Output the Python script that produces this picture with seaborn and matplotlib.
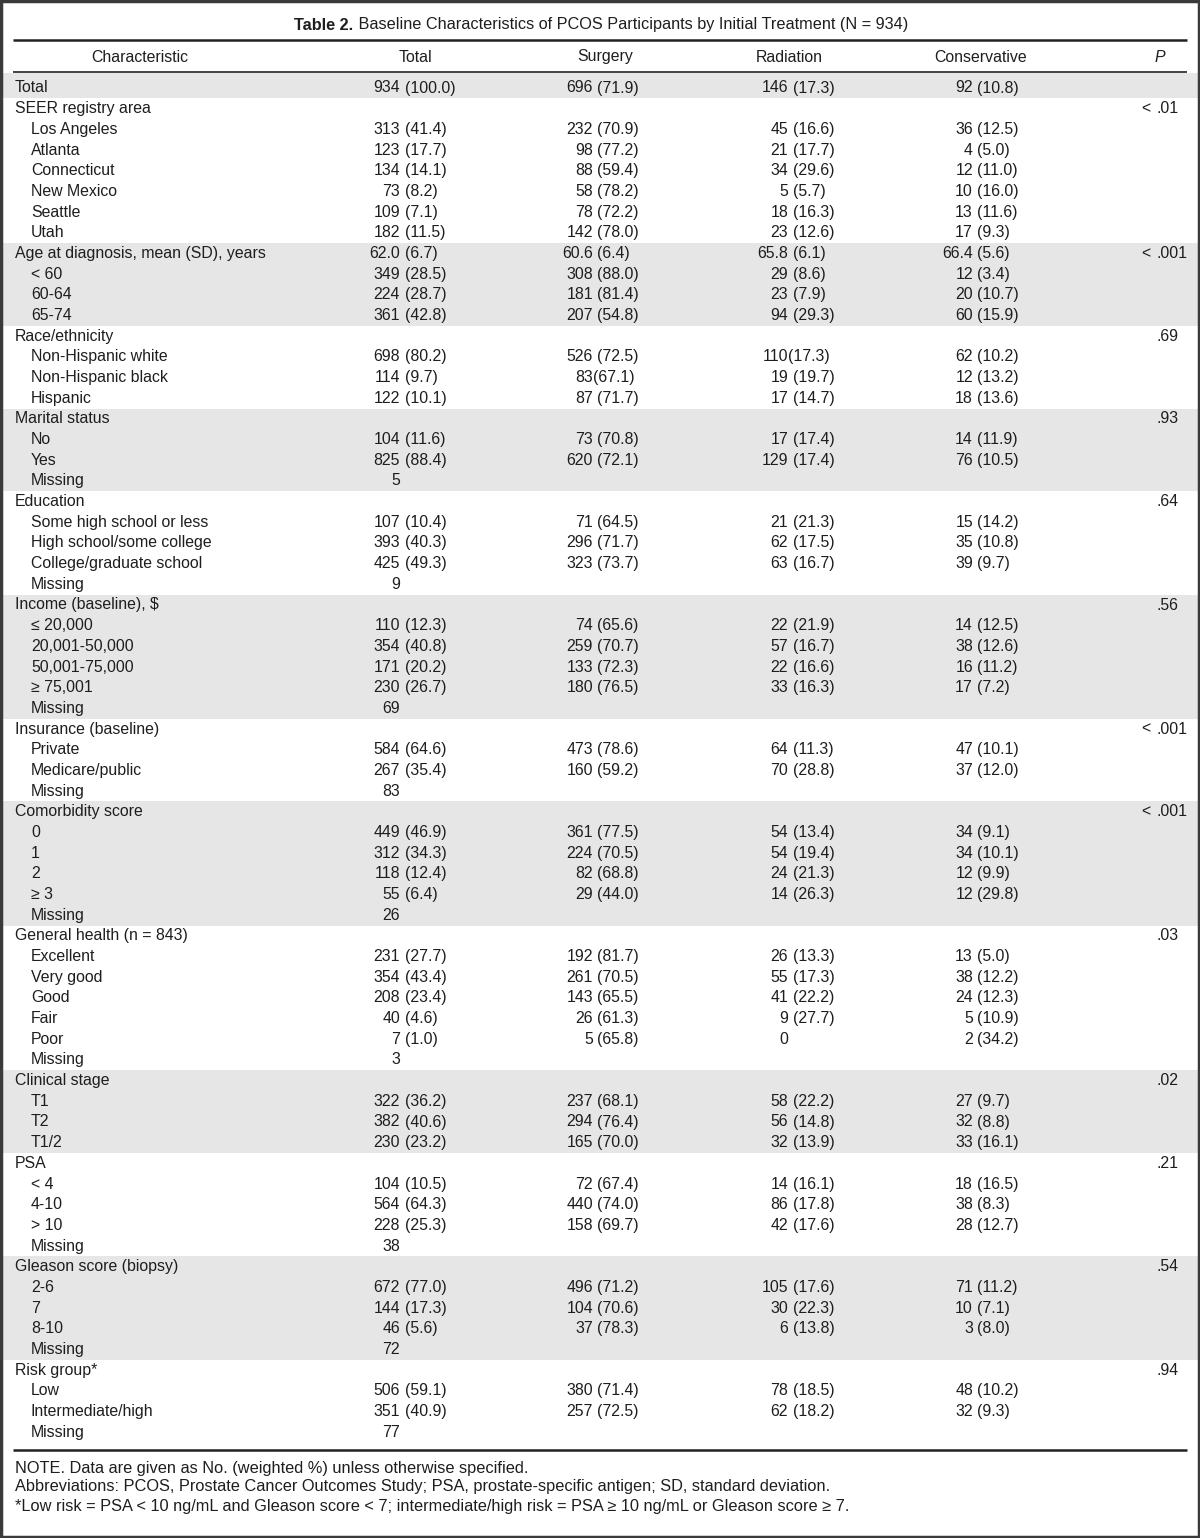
import matplotlib
matplotlib.use('Agg')
import matplotlib.pyplot as plt
import seaborn as sns
from matplotlib.patches import Rectangle

sns.set_theme(style='white')
plt.rcParams['font.family'] = ['Liberation Sans', 'DejaVu Sans']

# Table data
title_bold = 'Table 2.'
title_rest = ' Baseline Characteristics of PCOS Participants by Initial Treatment (N = 934)'
headers = ['Characteristic', 'Total', 'Surgery', 'Radiation', 'Conservative', 'P']

labels = [
    'Total', 'SEER registry area', 'Los Angeles', 'Atlanta', 'Connecticut', 'New Mexico', 'Seattle', 'Utah',
    'Age at diagnosis, mean (SD), years', '< 60', '60-64', '65-74',
    'Race/ethnicity', 'Non-Hispanic white', 'Non-Hispanic black', 'Hispanic',
    'Marital status', 'No', 'Yes', 'Missing',
    'Education', 'Some high school or less', 'High school/some college', 'College/graduate school', 'Missing',
    'Income (baseline), $', '≤ 20,000', '20,001-50,000', '50,001-75,000', '≥ 75,001', 'Missing',
    'Insurance (baseline)', 'Private', 'Medicare/public', 'Missing',
    'Comorbidity score', '0', '1', '2', '≥ 3', 'Missing',
    'General health (n = 843)', 'Excellent', 'Very good', 'Good', 'Fair', 'Poor', 'Missing',
    'Clinical stage', 'T1', 'T2', 'T1/2',
    'PSA', '< 4', '4-10', '> 10', 'Missing',
    'Gleason score (biopsy)', '2-6', '7', '8-10', 'Missing',
    'Risk group*', 'Low', 'Intermediate/high', 'Missing',
]
indent = [
    0, 0, 1, 1, 1, 1, 1, 1,
    0, 1, 1, 1,
    0, 1, 1, 1,
    0, 1, 1, 1,
    0, 1, 1, 1, 1,
    0, 1, 1, 1, 1, 1,
    0, 1, 1, 1,
    0, 1, 1, 1, 1, 1,
    0, 1, 1, 1, 1, 1, 1,
    0, 1, 1, 1,
    0, 1, 1, 1, 1,
    0, 1, 1, 1, 1,
    0, 1, 1, 1,
]
total = [
    '934 (100.0)', '', '313 (41.4)', '123 (17.7)', '134 (14.1)', '73 (8.2)', '109 (7.1)', '182 (11.5)',
    '62.0 (6.7)', '349 (28.5)', '224 (28.7)', '361 (42.8)',
    '', '698 (80.2)', '114 (9.7)', '122 (10.1)',
    '', '104 (11.6)', '825 (88.4)', '5',
    '', '107 (10.4)', '393 (40.3)', '425 (49.3)', '9',
    '', '110 (12.3)', '354 (40.8)', '171 (20.2)', '230 (26.7)', '69',
    '', '584 (64.6)', '267 (35.4)', '83',
    '', '449 (46.9)', '312 (34.3)', '118 (12.4)', '55 (6.4)', '26',
    '', '231 (27.7)', '354 (43.4)', '208 (23.4)', '40 (4.6)', '7 (1.0)', '3',
    '', '322 (36.2)', '382 (40.6)', '230 (23.2)',
    '', '104 (10.5)', '564 (64.3)', '228 (25.3)', '38',
    '', '672 (77.0)', '144 (17.3)', '46 (5.6)', '72',
    '', '506 (59.1)', '351 (40.9)', '77',
]
surgery = [
    '696 (71.9)', '', '232 (70.9)', '98 (77.2)', '88 (59.4)', '58 (78.2)', '78 (72.2)', '142 (78.0)',
    '60.6 (6.4)', '308 (88.0)', '181 (81.4)', '207 (54.8)',
    '', '526 (72.5)', '83(67.1)', '87 (71.7)',
    '', '73 (70.8)', '620 (72.1)', '',
    '', '71 (64.5)', '296 (71.7)', '323 (73.7)', '',
    '', '74 (65.6)', '259 (70.7)', '133 (72.3)', '180 (76.5)', '',
    '', '473 (78.6)', '160 (59.2)', '',
    '', '361 (77.5)', '224 (70.5)', '82 (68.8)', '29 (44.0)', '',
    '', '192 (81.7)', '261 (70.5)', '143 (65.5)', '26 (61.3)', '5 (65.8)', '',
    '', '237 (68.1)', '294 (76.4)', '165 (70.0)',
    '', '72 (67.4)', '440 (74.0)', '158 (69.7)', '',
    '', '496 (71.2)', '104 (70.6)', '37 (78.3)', '',
    '', '380 (71.4)', '257 (72.5)', '',
]
radiation = [
    '146 (17.3)', '', '45 (16.6)', '21 (17.7)', '34 (29.6)', '5 (5.7)', '18 (16.3)', '23 (12.6)',
    '65.8 (6.1)', '29 (8.6)', '23 (7.9)', '94 (29.3)',
    '', '110(17.3)', '19 (19.7)', '17 (14.7)',
    '', '17 (17.4)', '129 (17.4)', '',
    '', '21 (21.3)', '62 (17.5)', '63 (16.7)', '',
    '', '22 (21.9)', '57 (16.7)', '22 (16.6)', '33 (16.3)', '',
    '', '64 (11.3)', '70 (28.8)', '',
    '', '54 (13.4)', '54 (19.4)', '24 (21.3)', '14 (26.3)', '',
    '', '26 (13.3)', '55 (17.3)', '41 (22.2)', '9 (27.7)', '0', '',
    '', '58 (22.2)', '56 (14.8)', '32 (13.9)',
    '', '14 (16.1)', '86 (17.8)', '42 (17.6)', '',
    '', '105 (17.6)', '30 (22.3)', '6 (13.8)', '',
    '', '78 (18.5)', '62 (18.2)', '',
]
conservative = [
    '92 (10.8)', '', '36 (12.5)', '4 (5.0)', '12 (11.0)', '10 (16.0)', '13 (11.6)', '17 (9.3)',
    '66.4 (5.6)', '12 (3.4)', '20 (10.7)', '60 (15.9)',
    '', '62 (10.2)', '12 (13.2)', '18 (13.6)',
    '', '14 (11.9)', '76 (10.5)', '',
    '', '15 (14.2)', '35 (10.8)', '39 (9.7)', '',
    '', '14 (12.5)', '38 (12.6)', '16 (11.2)', '17 (7.2)', '',
    '', '47 (10.1)', '37 (12.0)', '',
    '', '34 (9.1)', '34 (10.1)', '12 (9.9)', '12 (29.8)', '',
    '', '13 (5.0)', '38 (12.2)', '24 (12.3)', '5 (10.9)', '2 (34.2)', '',
    '', '27 (9.7)', '32 (8.8)', '33 (16.1)',
    '', '18 (16.5)', '38 (8.3)', '28 (12.7)', '',
    '', '71 (11.2)', '10 (7.1)', '3 (8.0)', '',
    '', '48 (10.2)', '32 (9.3)', '',
]
p_values = [
    '', '< .01', '', '', '', '', '', '',
    '< .001', '', '', '',
    '.69', '', '', '',
    '.93', '', '', '',
    '.64', '', '', '', '',
    '.56', '', '', '', '', '',
    '< .001', '', '', '',
    '< .001', '', '', '', '', '',
    '.03', '', '', '', '', '', '',
    '.02', '', '', '',
    '.21', '', '', '', '',
    '.54', '', '', '', '',
    '.94', '', '', '',
]
footnotes = [
    'NOTE. Data are given as No. (weighted %) unless otherwise specified.',
    'Abbreviations: PCOS, Prostate Cancer Outcomes Study; PSA, prostate-specific antigen; SD, standard deviation.',
    '*Low risk = PSA < 10 ng/mL and Gleason score < 7; intermediate/high risk = PSA ≥ 10 ng/mL or Gleason score ≥ 7.',
]

# Layout (pixels)
W, H = 1200, 1538
fs = 11.4
txt = '#1e1e1e'
shade = '#e6e6e6'
y0, dy = 88.0, 20.68
col_anchor = [400, 593, 788, 973]
header_x = [140, 415, 605, 789, 981, 1160]

fig = plt.figure(figsize=(W / 100, H / 100), dpi=100)
ax = fig.add_axes([0, 0, 1, 1])
ax.set_xlim(0, W)
ax.set_ylim(H, 0)
ax.axis('off')

# shaded bands for alternating groups
group = -1
groups = []
for ind in indent:
    if ind == 0:
        group += 1
    groups.append(group)
for i, g in enumerate(groups):
    if g % 2 == 0:
        yc = y0 + i * dy
        top = yc - dy / 2
        if i == 0:
            top = 72.5
        ax.add_patch(Rectangle((2, top), W - 4, yc + dy / 2 - top, color=shade, lw=0, zorder=0))

# title (bold lead-in + regular rest, centred as a whole)
renderer = fig.canvas.get_renderer()
inv = ax.transData.inverted()
t1 = ax.text(0, 25, title_bold, fontsize=11.7, fontweight='bold', color=txt, va='center', ha='left')
t2 = ax.text(0, 25, title_rest, fontsize=11.7, color=txt, va='center', ha='left')
w1 = inv.transform((t1.get_window_extent(renderer).width, 0))[0] - inv.transform((0, 0))[0]
w2 = inv.transform((t2.get_window_extent(renderer).width, 0))[0] - inv.transform((0, 0))[0]
xs = 601 - (w1 + w2) / 2
t1.set_x(xs)
t2.set_x(xs + w1)

# rules
ax.plot([13, 1187], [39.5, 39.5], color='#222222', lw=1.8, solid_capstyle='butt')
ax.plot([13, 1187], [71.5, 71.5], color='#222222', lw=1.2, solid_capstyle='butt')
ax.plot([13, 1187], [1450, 1450], color='#222222', lw=1.8, solid_capstyle='butt')

# headers
for hx, h in zip(header_x, headers):
    ax.text(hx, 57, h, fontsize=fs, color=txt, ha='center', va='center',
            style='italic' if h == 'P' else 'normal')


def cell(x, y, s):
    if not s:
        return
    if '(' in s:
        num, rest = s.split('(', 1)
        gap = 4.5 if num.endswith(' ') else 0
        ax.text(x, y, num.strip(), fontsize=fs, color=txt, ha='right', va='center')
        ax.text(x + gap, y, '(' + rest, fontsize=fs, color=txt, ha='left', va='center')
    else:
        ax.text(x, y, s, fontsize=fs, color=txt, ha='right', va='center')


for i, lab in enumerate(labels):
    y = y0 + i * dy
    ax.text(15 + 16 * indent[i], y, lab, fontsize=fs, color=txt, ha='left', va='center')
    for x, col in zip(col_anchor, [total, surgery, radiation, conservative]):
        cell(x, y, col[i])
    p = p_values[i]
    if p:
        pre, post = p.split('.', 1)
        if pre.strip():
            ax.text(1150, y, pre.strip(), fontsize=fs, color=txt, ha='right', va='center')
        ax.text(1156, y, '.' + post, fontsize=fs, color=txt, ha='left', va='center')

for j, note in enumerate(footnotes):
    ax.text(15, 1468 + j * 19, note, fontsize=11.8, color=txt, ha='left', va='center')

# outer frame
ax.add_patch(Rectangle((1, 1), W - 2, H - 2, fill=False, ec='#3a3a3a', lw=2.5, zorder=5))

fig.savefig('out.png', dpi=100)
